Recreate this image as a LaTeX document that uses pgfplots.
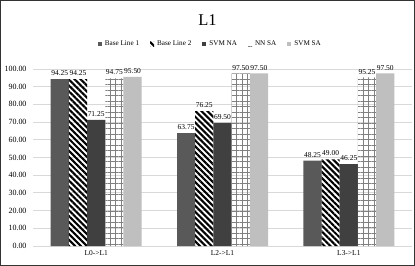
\documentclass[border=0pt]{standalone}
\usepackage{fontspec}
\setmainfont{Liberation Serif}
\usepackage{pgfplots}
\pgfplotsset{compat=1.18}
\usetikzlibrary{patterns.meta}
\definecolor{blone}{HTML}{595959}
\definecolor{svmna}{HTML}{404040}
\definecolor{svmsa}{HTML}{BFBFBF}
\definecolor{gridc}{HTML}{D9D9D9}
\definecolor{nngrid}{HTML}{808080}
\begin{document}
\begin{tikzpicture}
\useasboundingbox (0,0) rectangle (415bp,266bp);
\draw[line width=1.4bp, black!80] (0.7bp,0.7bp) rectangle (414.3bp,265.3bp);
\node[font=\fontsize{16.5}{18}\selectfont] at (207.5bp,246bp) {L1};
\begin{axis}[
  at={(33bp,20bp)}, anchor=south west,
  scale only axis, width=379bp, height=177bp,
  ymin=0, ymax=100, xmin=-0.5, xmax=2.5,
  ybar=0pt, bar width=18.2bp,
  xtick={0,1,2}, xticklabels={L0->L1, L2->L1, L3->L1},
  ytick={0,10,...,100},
  ymajorgrids, grid style={gridc, line width=0.8bp},
  axis line style={draw=none},
  major tick length=0pt,
  /pgf/number format/assume math mode=true,
  yticklabel style={xshift=-3bp, font=\fontsize{8}{9}\selectfont, /pgf/number format/.cd, fixed, fixed zerofill, precision=2},
  xticklabel style={font=\fontsize{7.5}{9}\selectfont, yshift=-1bp},
  nodes near coords,
  nodes near coords style={font=\fontsize{7.5}{9}\selectfont, text=black, inner sep=1.5bp, yshift=1.5bp, /pgf/number format/.cd, fixed, fixed zerofill, precision=2},
  clip=false,
  legend style={at={(0.468,1.141)}, anchor=center, legend columns=-1, draw=none, fill=none,
    font=\fontsize{7.2}{8}\selectfont, inner sep=0pt,
    /tikz/every odd column/.append style={column sep=1bp},
    /tikz/every even column/.append style={column sep=9bp}},
  legend image code/.code={\draw[#1, draw=none] (0bp,-2bp) rectangle (4bp,2.4bp);},
]
\addplot[fill=blone, draw=none] coordinates {(0,94.25) (1,63.75) (2,48.25)};
\addplot[draw=none, pattern={Lines[angle=-45, distance=4.2bp, line width=2.1bp]}, pattern color=black] coordinates {(0,94.25) (1,76.25) (2,49.00)};
\addplot[fill=svmna, draw=none] coordinates {(0,71.25) (1,69.50) (2,46.25)};
\addplot[draw=none, fill=white, pattern={Hatch[angle=0, distance=5.5bp, line width=0.9bp]}, pattern color=nngrid] coordinates {(0,94.75) (1,97.50) (2,95.25)};
\addplot[fill=svmsa, draw=none] coordinates {(0,95.50) (1,97.50) (2,97.50)};
\legend{Base Line 1, Base Line 2, SVM NA, NN SA, SVM SA}
\end{axis}
\end{tikzpicture}
\end{document}
